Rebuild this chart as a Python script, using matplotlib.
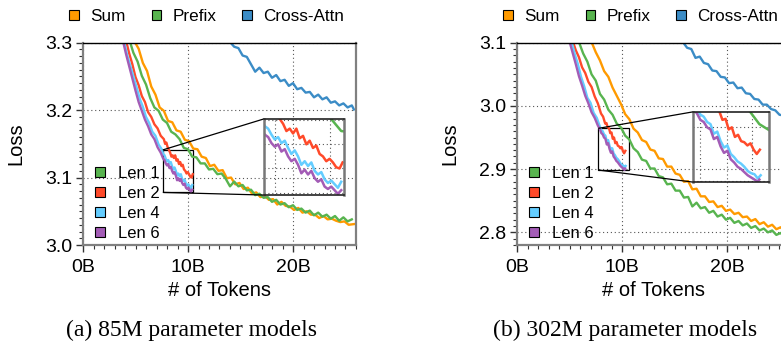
import matplotlib.pyplot as plt
from matplotlib.patches import Patch
from matplotlib.ticker import MultipleLocator, FuncFormatter
from mpl_toolkits.axes_grid1.inset_locator import mark_inset

plt.rcParams['font.family'] = ['Liberation Sans', 'DejaVu Sans']

C_SUM = '#ff9a00'
C_PREFIX = '#58b44f'
C_CROSS = '#3b8cc6'
C_LEN2 = '#ff4a2a'
C_LEN4 = '#64cdff'
C_LEN6 = '#a35cb6'

top_labels = ['Sum', 'Prefix', 'Cross-Attn']
len_labels = ['Len 1', 'Len 2', 'Len 4', 'Len 6']
captions = ['(a) 85M parameter models', '(b) 302M parameter models']

# ---------------- 85M models ----------------
sum85_x = [4.9, 5.3, 5.7, 6.1, 6.5, 6.9, 7.3, 7.7, 8.1, 8.5, 8.9, 9.3, 9.7, 10.1, 10.5,
           10.9, 11.3, 11.7, 12.1, 12.5, 12.9, 13.3, 13.7, 14.1, 14.5, 14.9, 15.3, 15.7,
           16.1, 16.5, 16.9, 17.3, 17.7, 18.1, 18.5, 18.9, 19.3, 19.7, 20.1, 20.5, 20.9,
           21.3, 21.7, 22.1, 22.5, 22.9, 23.3, 23.7, 24.1, 24.5, 24.9, 25.3, 25.8]
sum85_y = [3.302, 3.291, 3.270, 3.258, 3.235, 3.223, 3.204, 3.199, 3.184, 3.182, 3.170,
           3.168, 3.156, 3.154, 3.143, 3.142, 3.131, 3.129, 3.117, 3.119, 3.110, 3.111,
           3.099, 3.100, 3.090, 3.092, 3.083, 3.085, 3.076, 3.078, 3.071, 3.073, 3.067,
           3.068, 3.060, 3.064, 3.058, 3.057, 3.052, 3.055, 3.048, 3.050, 3.045, 3.045,
           3.040, 3.043, 3.038, 3.039, 3.036, 3.034, 3.035, 3.030, 3.031]

len1_85_x = [4.4, 4.8, 5.2, 5.6, 6.0, 6.4, 6.8, 7.2, 7.6, 8.0, 8.4, 8.8, 9.2, 9.6, 10.0,
             10.4, 10.8, 11.2, 11.6, 12.0, 12.4, 12.8, 13.2, 13.6, 14.0, 14.4, 14.8, 15.2,
             15.6, 16.0, 16.4, 16.8, 17.2, 17.6, 18.0, 18.4, 18.8, 19.2, 19.6, 20.0, 20.4,
             20.8, 21.2, 21.6, 22.0, 22.4, 22.8, 23.2, 23.6, 24.0, 24.4, 24.8, 25.2, 25.6]
len1_85_y = [3.305, 3.285, 3.272, 3.251, 3.238, 3.218, 3.204, 3.199, 3.186, 3.181, 3.168,
             3.164, 3.157, 3.144, 3.142, 3.131, 3.130, 3.121, 3.121, 3.112, 3.113, 3.105,
             3.106, 3.098, 3.087, 3.094, 3.087, 3.089, 3.081, 3.082, 3.074, 3.076, 3.070,
             3.071, 3.064, 3.067, 3.060, 3.062, 3.056, 3.059, 3.052, 3.054, 3.048, 3.051,
             3.044, 3.048, 3.042, 3.045, 3.039, 3.043, 3.036, 3.041, 3.035, 3.038]

len2_85_x = [4.1, 4.4, 4.7, 5.0, 5.3, 5.6, 5.9, 6.2, 6.5, 6.8, 7.1, 7.4, 7.7, 7.82, 7.94,
             8.06, 8.18, 8.30, 8.42, 8.54, 8.66, 8.78, 8.90, 9.02, 9.14, 9.26, 9.38, 9.50,
             9.62, 9.74, 9.86, 9.98, 10.10, 10.22, 10.34, 10.45]
len2_85_y = [3.303, 3.284, 3.268, 3.249, 3.237, 3.221, 3.212, 3.197, 3.190, 3.179, 3.173,
             3.162, 3.157, 3.150, 3.152, 3.145, 3.141, 3.137, 3.131, 3.133, 3.129, 3.133,
             3.125, 3.127, 3.120, 3.123, 3.117, 3.119, 3.112, 3.110, 3.106, 3.108, 3.105,
             3.101, 3.100, 3.105]

len4_85_x = [3.9, 4.2, 4.5, 4.8, 5.1, 5.4, 5.7, 6.0, 6.3, 6.6, 6.9, 7.2, 7.5, 7.64, 7.76,
             7.88, 8.00, 8.12, 8.24, 8.36, 8.48, 8.60, 8.72, 8.84, 8.96, 9.08, 9.20, 9.32,
             9.44, 9.56, 9.68, 9.80, 9.92, 10.04, 10.16, 10.28, 10.40]
len4_85_y = [3.303, 3.282, 3.266, 3.250, 3.234, 3.217, 3.205, 3.190, 3.181, 3.168, 3.162,
             3.149, 3.142, 3.135, 3.133, 3.128, 3.124, 3.126, 3.121, 3.123, 3.117, 3.112,
             3.115, 3.110, 3.103, 3.106, 3.102, 3.105, 3.098, 3.095, 3.097, 3.091, 3.088,
             3.090, 3.087, 3.084, 3.089]

len6_85_x = [3.8, 4.1, 4.4, 4.7, 5.0, 5.3, 5.6, 5.9, 6.2, 6.5, 6.8, 7.1, 7.4, 7.64, 7.76,
             7.88, 8.00, 8.12, 8.24, 8.36, 8.48, 8.60, 8.72, 8.84, 8.96, 9.08, 9.20, 9.32,
             9.44, 9.56, 9.68, 9.80, 9.92, 10.04, 10.16, 10.28, 10.40]
len6_85_y = [3.303, 3.283, 3.265, 3.247, 3.229, 3.212, 3.199, 3.186, 3.176, 3.164, 3.157,
             3.145, 3.137, 3.128, 3.126, 3.121, 3.118, 3.120, 3.114, 3.116, 3.110, 3.106,
             3.108, 3.103, 3.096, 3.099, 3.095, 3.098, 3.092, 3.089, 3.091, 3.085, 3.083,
             3.085, 3.082, 3.079, 3.082]

cross85_x = [14.0, 14.4, 14.8, 15.2, 15.6, 16.0, 16.4, 16.8, 17.2, 17.6, 18.0, 18.4, 18.8,
             19.2, 19.6, 20.0, 20.4, 20.8, 21.2, 21.6, 22.0, 22.4, 22.8, 23.2, 23.6, 24.0,
             24.4, 24.8, 25.2, 25.6, 25.8]
cross85_y = [3.301, 3.294, 3.292, 3.281, 3.279, 3.268, 3.257, 3.263, 3.255, 3.257, 3.248,
             3.252, 3.243, 3.245, 3.236, 3.240, 3.231, 3.233, 3.226, 3.227, 3.219, 3.223,
             3.216, 3.219, 3.211, 3.213, 3.207, 3.210, 3.204, 3.207, 3.201]

# ---------------- 302M models ----------------
sum302_x = [7.1, 7.5, 7.9, 8.3, 8.7, 9.1, 9.5, 9.9, 10.3, 10.7, 11.1, 11.5, 11.9, 12.3,
            12.7, 13.1, 13.5, 13.9, 14.3, 14.7, 15.1, 15.5, 15.9, 16.3, 16.7, 17.1, 17.5,
            17.9, 18.3, 18.7, 19.1, 19.5, 19.9, 20.3, 20.7, 21.1, 21.5, 21.9, 22.3, 22.7,
            23.1, 23.5, 23.9, 24.3, 24.7, 25.1, 25.5, 25.9]
sum302_y = [3.101, 3.085, 3.072, 3.055, 3.046, 3.029, 3.016, 3.003, 2.987, 2.979, 2.964,
            2.958, 2.946, 2.943, 2.931, 2.929, 2.917, 2.916, 2.904, 2.904, 2.893, 2.891,
            2.880, 2.881, 2.868, 2.869, 2.857, 2.857, 2.848, 2.849, 2.840, 2.842, 2.834,
            2.836, 2.829, 2.831, 2.824, 2.825, 2.818, 2.821, 2.813, 2.816, 2.809, 2.812,
            2.805, 2.808, 2.802, 2.804]

len1_302_x = [5.9, 6.3, 6.7, 7.1, 7.5, 7.9, 8.3, 8.7, 9.1, 9.5, 9.9, 10.3, 10.7, 11.1,
              11.5, 11.9, 12.3, 12.7, 13.1, 13.5, 13.9, 14.3, 14.7, 15.1, 15.5, 15.9, 16.3,
              16.7, 17.1, 17.5, 17.9, 18.3, 18.7, 19.1, 19.5, 19.9, 20.3, 20.7, 21.1, 21.5,
              21.9, 22.3, 22.7, 23.1, 23.5, 23.9, 24.3, 24.7, 25.1, 25.5, 25.9]
len1_302_y = [3.101, 3.083, 3.070, 3.050, 3.040, 3.019, 3.010, 2.994, 2.986, 2.972, 2.966,
              2.953, 2.947, 2.933, 2.927, 2.915, 2.913, 2.901, 2.901, 2.889, 2.887, 2.876,
              2.877, 2.866, 2.866, 2.855, 2.856, 2.841, 2.847, 2.838, 2.840, 2.831, 2.834,
              2.825, 2.828, 2.820, 2.823, 2.815, 2.818, 2.811, 2.814, 2.807, 2.810, 2.803,
              2.806, 2.800, 2.803, 2.796, 2.799, 2.793, 2.795]

len2_302_x = [5.3, 5.6, 5.9, 6.2, 6.5, 6.8, 7.1, 7.4, 7.7, 8.0, 8.2, 8.4, 8.52, 8.64, 8.76,
              8.88, 9.00, 9.12, 9.24, 9.36, 9.48, 9.60, 9.72, 9.84, 9.96, 10.08, 10.20, 10.32]
len2_302_y = [3.103, 3.088, 3.077, 3.061, 3.052, 3.038, 3.030, 3.015, 3.004, 2.988, 2.983,
              2.972, 2.973, 2.966, 2.965, 2.957, 2.958, 2.948, 2.950, 2.941, 2.943, 2.937,
              2.936, 2.933, 2.935, 2.929, 2.925, 2.929]

len4_302_x = [5.2, 5.5, 5.8, 6.1, 6.4, 6.7, 7.0, 7.3, 7.6, 7.9, 8.03, 8.16, 8.29, 8.42,
              8.55, 8.68, 8.81, 8.94, 9.07, 9.20, 9.33, 9.46, 9.59, 9.72, 9.85, 9.98, 10.11,
              10.24, 10.35]
len4_302_y = [3.101, 3.082, 3.066, 3.046, 3.031, 3.013, 3.005, 2.989, 2.981, 2.967, 2.962,
              2.960, 2.955, 2.953, 2.944, 2.946, 2.937, 2.931, 2.933, 2.925, 2.922, 2.918,
              2.916, 2.913, 2.909, 2.907, 2.906, 2.902, 2.905]

len6_302_x = [5.0, 5.3, 5.6, 5.9, 6.2, 6.5, 6.8, 7.1, 7.4, 7.7, 7.9, 8.03, 8.16, 8.29,
              8.42, 8.55, 8.68, 8.81, 8.94, 9.07, 9.20, 9.33, 9.46, 9.59, 9.72, 9.85, 9.98,
              10.11, 10.24, 10.30]
len6_302_y = [3.102, 3.084, 3.066, 3.047, 3.032, 3.016, 3.004, 2.990, 2.981, 2.969, 2.963,
              2.957, 2.955, 2.950, 2.948, 2.939, 2.941, 2.932, 2.926, 2.928, 2.920, 2.917,
              2.913, 2.911, 2.908, 2.905, 2.903, 2.901, 2.899, 2.901]

cross302_x = [15.8, 16.2, 16.6, 17.0, 17.4, 17.8, 18.2, 18.6, 19.0, 19.4, 19.8, 20.2, 20.6,
              21.0, 21.4, 21.8, 22.2, 22.6, 23.0, 23.4, 23.8, 24.2, 24.6, 25.0, 25.4, 25.8]
cross302_y = [3.101, 3.092, 3.090, 3.076, 3.078, 3.068, 3.066, 3.056, 3.055, 3.046, 3.045,
              3.036, 3.037, 3.028, 3.029, 3.020, 3.019, 3.011, 3.010, 3.002, 3.002, 2.995,
              2.993, 2.986, 2.985, 2.979]

W, H = 781, 351
fig = plt.figure(figsize=(W / 100, H / 100), dpi=100)

GRID = dict(linestyle=(0, (1, 2.5)), color='#555555', linewidth=0.8)


def draw_lines(ax, series, lw):
    for xs, ys, c in series:
        ax.plot(xs, ys, color=c, lw=lw, solid_joinstyle='round')


def panel(left_px, series, ylim, inset_rect, inset_xlim, inset_ylim, inset_yticks,
          caption, caption_x):
    ax = fig.add_axes([left_px / W, (H - 245) / H, 273 / W, 202.3 / H])
    draw_lines(ax, series, 1.7)
    ax.set_xlim(0, 26)
    ax.set_ylim(*ylim)
    ax.xaxis.set_major_locator(MultipleLocator(10))
    ax.xaxis.set_minor_locator(MultipleLocator(1))
    ax.yaxis.set_major_locator(MultipleLocator(0.1))
    ax.yaxis.set_minor_locator(MultipleLocator(0.01))
    ax.xaxis.set_major_formatter(FuncFormatter(lambda v, p: f'{v:.0f}B'))
    ax.yaxis.set_major_formatter(FuncFormatter(lambda v, p: f'{v:.1f}'))
    ax.tick_params(which='major', length=5, width=1.0, color='#333333',
                   labelsize=14, pad=3)
    ax.tick_params(which='minor', length=3, width=0.8, color='#333333')
    ax.tick_params(axis='x', which='major', pad=5)
    for side in ('left', 'bottom', 'right'):
        ax.spines[side].set_color('#808080')
        ax.spines[side].set_linewidth(1.6)
    ax.spines['top'].set_color('black')
    ax.spines['top'].set_linewidth(1.0)
    ax.grid(True, which='major', **GRID)
    ax.set_axisbelow(True)
    ax.set_xlabel('# of Tokens', fontsize=14.5)
    ax.set_ylabel('Loss', fontsize=14.5)
    ax.xaxis.set_label_coords(0.5, -0.18)
    ax.yaxis.set_label_coords(-0.21, 0.5)

    top = [Patch(facecolor=c, edgecolor='black', linewidth=0.8)
           for c in (C_SUM, C_PREFIX, C_CROSS)]
    leg = ax.legend(top, top_labels, loc='center left', bbox_to_anchor=(-0.05, 1.13),
                    ncol=3, frameon=False, fontsize=12.3, handlelength=0.54,
                    handleheight=0.54, handletextpad=0.7, columnspacing=1.5,
                    borderpad=0, borderaxespad=0)
    ax.add_artist(leg)
    lens = [Patch(facecolor=c, edgecolor='black', linewidth=0.8)
            for c in (C_PREFIX, C_LEN2, C_LEN4, C_LEN6)]
    ax.legend(lens, len_labels, loc='lower left', bbox_to_anchor=(0.044, 0.02),
              frameon=False, fontsize=12, handlelength=0.6, handleheight=0.6,
              handletextpad=0.75, labelspacing=0.3, borderpad=0, borderaxespad=0)

    axins = ax.inset_axes(inset_rect)
    axins.set_facecolor('none')
    draw_lines(axins, series, 1.8)
    axins.set_xlim(*inset_xlim)
    axins.set_ylim(*inset_ylim)
    axins.set_xticks([8, 10])
    axins.set_yticks(inset_yticks)
    axins.tick_params(length=0, labelbottom=False, labelleft=False)
    axins.grid(True, **GRID)
    for side in ('left', 'right'):
        axins.spines[side].set_color('#777777')
        axins.spines[side].set_linewidth(1.8)
    for side in ('top', 'bottom'):
        axins.spines[side].set_color('#222222')
        axins.spines[side].set_linewidth(1.2)
    mark_inset(ax, axins, loc1=2, loc2=3, fc='none', ec='black', lw=0.9)

    fig.text(caption_x / W, 1 - 330 / H, caption, ha='center', va='center',
             family='Liberation Serif', fontsize=17)


series85 = [(sum85_x, sum85_y, C_SUM), (len1_85_x, len1_85_y, C_PREFIX),
            (len2_85_x, len2_85_y, C_LEN2), (len4_85_x, len4_85_y, C_LEN4),
            (len6_85_x, len6_85_y, C_LEN6), (cross85_x, cross85_y, C_CROSS)]
series302 = [(sum302_x, sum302_y, C_SUM), (len1_302_x, len1_302_y, C_PREFIX),
             (len2_302_x, len2_302_y, C_LEN2), (len4_302_x, len4_302_y, C_LEN4),
             (len6_302_x, len6_302_y, C_LEN6), (cross302_x, cross302_y, C_CROSS)]

panel(83, series85, (3.0, 3.3), [0.662, 0.247, 0.294, 0.376], (7.6, 10.5),
      (3.078, 3.141), [3.08, 3.10, 3.12, 3.14], captions[0], 192)
panel(517, series302, (2.78, 3.1), [0.644, 0.311, 0.279, 0.347], (7.74, 10.67),
      (2.8986, 2.9645), [2.90, 2.95], captions[1], 625)

fig.savefig('out.png', dpi=100)
